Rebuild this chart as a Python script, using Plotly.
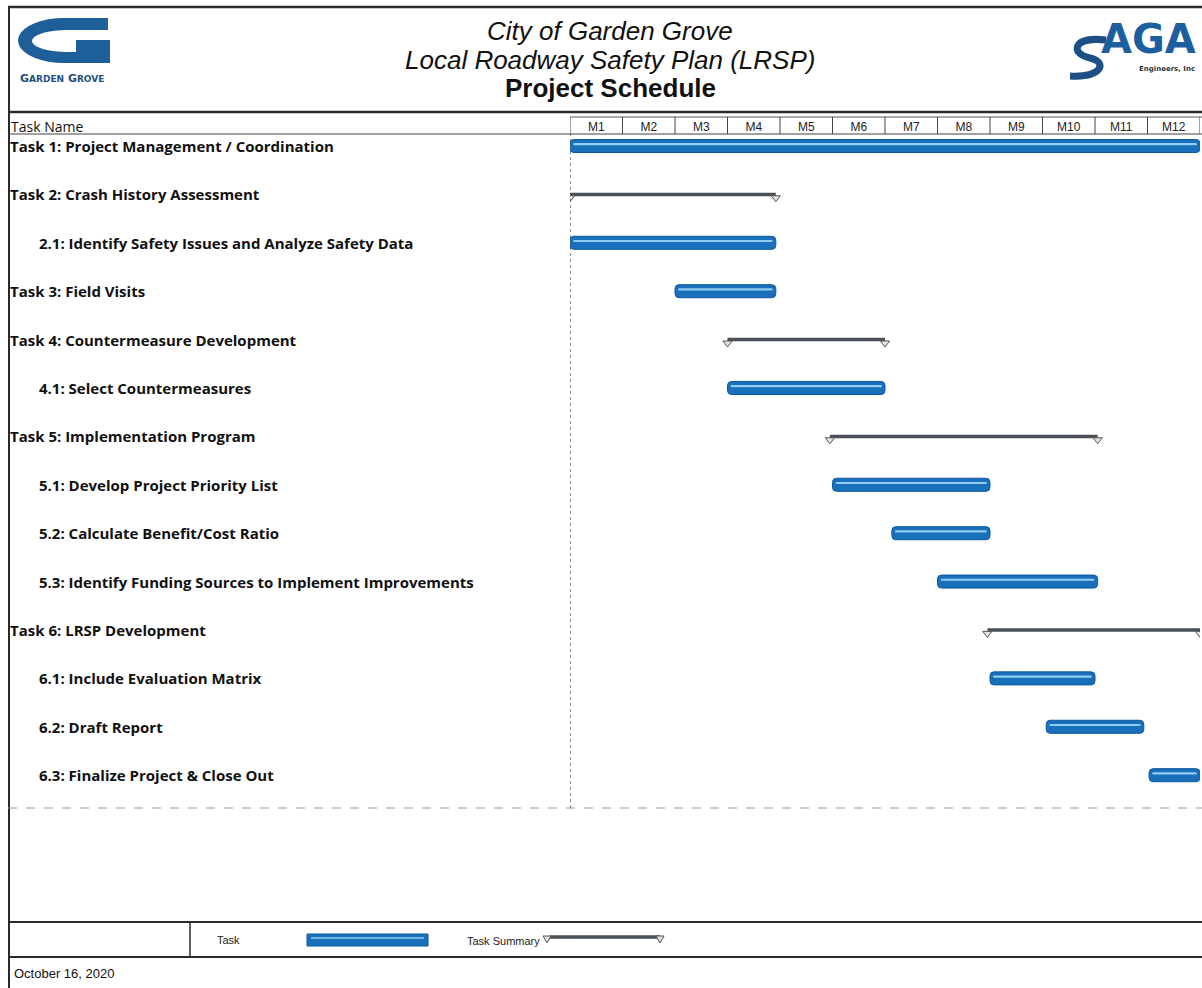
import math
import plotly.graph_objects as go

W, H = 1202, 988

# ---------------- data ----------------
task_names = [
    "Task 1: Project Management / Coordination",
    "Task 2: Crash History Assessment",
    "2.1: Identify Safety Issues and Analyze Safety Data",
    "Task 3: Field Visits",
    "Task 4: Countermeasure Development",
    "4.1: Select Countermeasures",
    "Task 5: Implementation Program",
    "5.1: Develop Project Priority List",
    "5.2: Calculate Benefit/Cost Ratio",
    "5.3: Identify Funding Sources to Implement Improvements",
    "Task 6: LRSP Development",
    "6.1: Include Evaluation Matrix",
    "6.2: Draft Report",
    "6.3: Finalize Project & Close Out",
]
indent = [0, 0, 1, 0, 0, 1, 0, 1, 1, 1, 0, 1, 1, 1]
kind = ["task", "summary", "task", "task", "summary", "task", "summary",
        "task", "task", "task", "summary", "task", "task", "task"]
start_month = [0, 0, 0, 2.0, 3.0, 3.0, 4.95, 5.0, 6.13, 7.0, 7.95, 8.0, 9.07, 11.03]
end_month = [12, 3.92, 3.92, 3.92, 6.0, 6.0, 10.05, 8.0, 8.0, 10.05, 12, 10.0, 10.93, 12]
months = ["M1", "M2", "M3", "M4", "M5", "M6", "M7", "M8", "M9", "M10", "M11", "M12"]

BLUE = "#1a6fba"
BLUE_EDGE = "#0c5a9e"
HILITE = "#8fcdf2"
SUMMARY = "#4a5057"
LOGO_BLUE = "#1f5f99"


def px(x):
    return x / W


def py(y):
    return 1 - y / H


rows = list(range(len(task_names)))
t_rows = [r for r in rows if kind[r] == "task"]
s_rows = [r for r in rows if kind[r] == "summary"]

fig = go.Figure()

# task bars
fig.add_trace(go.Bar(
    orientation="h",
    y=t_rows,
    base=[start_month[r] for r in t_rows],
    x=[end_month[r] - start_month[r] for r in t_rows],
    width=0.27,
    marker=dict(color=BLUE, line=dict(color=BLUE_EDGE, width=1)),
    showlegend=False, hoverinfo="skip",
))
# highlight stripe inside the bars
fig.add_trace(go.Bar(
    orientation="h",
    y=t_rows,
    base=[start_month[r] + 0.06 for r in t_rows],
    x=[end_month[r] - start_month[r] - 0.12 for r in t_rows],
    width=0.045,
    offset=-0.06,
    marker=dict(color=HILITE, line=dict(width=0)),
    showlegend=False, hoverinfo="skip",
))

# summary bars
for r in s_rows:
    fig.add_trace(go.Scatter(
        x=[start_month[r], end_month[r]], y=[r, r], mode="lines",
        line=dict(color=SUMMARY, width=3.5),
        showlegend=False, hoverinfo="skip",
    ))
    fig.add_trace(go.Scatter(
        x=[start_month[r], end_month[r]], y=[r + 0.07, r + 0.07], mode="markers",
        marker=dict(symbol="triangle-down", size=8, color="#e4e4e4",
                    line=dict(color="#555", width=1)),
        showlegend=False, hoverinfo="skip",
    ))

# task labels
annotations = []
for r in rows:
    annotations.append(dict(
        x=px(8 if indent[r] == 0 else 37), xref="paper", xanchor="left",
        y=r, yref="y", yanchor="middle",
        text=task_names[r], showarrow=False,
        font=dict(family="Open Sans", size=15, color="#111", weight=700),
    ))


def note(x, y, text, font, xanchor="center"):
    annotations.append(dict(x=px(x), y=py(y), xref="paper", yref="paper",
                            xanchor=xanchor, yanchor="middle", text=text,
                            showarrow=False, font=font))


TITLE = dict(family="Liberation Sans", size=26, color="#111")
note(610, 31, "City of Garden Grove", dict(TITLE, style="italic"))
note(610, 60, "Local Roadway Safety Plan (LRSP)", dict(TITLE, style="italic"))
note(610, 88, "<b>Project Schedule</b>", TITLE)
# logos (as text + simple shapes)
note(18, 78, "<b>G<span style='font-size:9px'>ARDEN</span> G<span style='font-size:9px'>ROVE</span></b>",
     dict(family="DejaVu Sans", size=11, color="#1f4f7f"), "left")
note(1198, 39, "<b>AGA</b>", dict(family="DejaVu Sans", size=40, color="#1c5f9f"), "right")
note(1197, 69, "<b>Engineers, Inc</b>", dict(family="DejaVu Sans", size=7, color="#333"), "right")
note(9, 126, "Task Name", dict(family="Open Sans", size=14, color="#111"), "left")
# legend / footer
note(215, 940, "Task", dict(family="Liberation Sans", size=11, color="#222"), "left")
note(465, 941, "Task Summary", dict(family="Liberation Sans", size=11, color="#222"), "left")
note(12, 973, "October 16, 2020", dict(family="Liberation Sans", size=13, color="#111"), "left")

shapes = []


def hline(y, x0, x1, w=2, color="#2a2a2a", dash="solid"):
    shapes.append(dict(type="line", xref="paper", yref="paper",
                       x0=px(x0), x1=px(x1), y0=py(y), y1=py(y),
                       line=dict(color=color, width=w, dash=dash)))


def vline(x, y0, y1, w=2, color="#2a2a2a", dash="solid"):
    shapes.append(dict(type="line", xref="paper", yref="paper",
                       x0=px(x), x1=px(x), y0=py(y0), y1=py(y1),
                       line=dict(color=color, width=w, dash=dash)))


def to_path(cmds):
    out = []
    for c, pts in cmds:
        out.append(c + " " + " ".join(f"{px(x):.5f},{py(y):.5f}" for x, y in pts))
    return " ".join(out)


# Garden Grove "G" logo mark
def ell(cx, cy, rx, ry, a):
    t = math.radians(a)
    return (cx + rx * math.cos(t), cy - ry * math.sin(t))


g_pts = [(108, 18)]
g_pts += [ell(64, 40.5, 46, 22.5, a) for a in range(90, 271, 10)]
g_pts += [(110, 63), (110, 40), (76, 40), (76, 52)]
g_pts += [ell(67, 41, 35, 11, a) for a in range(270, 89, -10)]
g_pts += [(108, 30)]
gpath = "M " + " L ".join(f"{px(x):.5f} {py(y):.5f}" for x, y in g_pts) + " Z"
shapes.append(dict(type="path", xref="paper", yref="paper", path=gpath,
                   fillcolor=LOGO_BLUE, line=dict(width=0)))

# SAGA "S" swoosh
spath = to_path([("M", [(1106, 40)]),
                 ("C", [(1072, 36), (1070, 54), (1090, 58)]),
                 ("C", [(1108, 62), (1102, 78), (1070, 76)])])
shapes.append(dict(type="path", xref="paper", yref="paper", path=spath,
                   line=dict(color="#1b4f86", width=7)))

hline(7, 8, 1202, 2.5)
vline(9, 7, 988, 2)
hline(112, 8, 1202, 2.5)
hline(117, 570, 1202, 1, "#555")
hline(134, 8, 1202, 1.2, "#444")
hline(808, 8, 1202, 1, "#9a9a9a", "dash")
hline(922, 8, 1202, 2)
hline(957, 8, 1202, 2)
vline(190, 922, 957, 1.5)

# month separators and chart start line (via x axis)
for k in range(len(months) + 1):
    shapes.append(dict(type="line", xref="x", yref="paper", x0=k, x1=k,
                       y0=py(134), y1=py(117), line=dict(color="#444", width=1)))
shapes.append(dict(type="line", xref="x", yref="paper", x0=0, x1=0,
                   y0=py(808), y1=py(134), line=dict(color="#555", width=1.3, dash="dot")))

# legend samples
shapes.append(dict(type="rect", xref="paper", yref="paper",
                   x0=px(307), x1=px(428), y0=py(946), y1=py(934),
                   fillcolor=BLUE, line=dict(color=BLUE_EDGE, width=1)))
hline(938, 311, 424, 1.5, HILITE)
hline(937, 550, 660, 3.5, SUMMARY)
for cx in (547, 660):
    shapes.append(dict(type="path", xref="paper", yref="paper",
                       path=f"M {px(cx-4)} {py(936)} L {px(cx+4)} {py(936)} L {px(cx)} {py(943)} Z",
                       fillcolor="#e4e4e4", line=dict(color="#555", width=1)))

fig.update_layout(
    width=W, height=H,
    margin=dict(l=0, r=0, t=0, b=0),
    paper_bgcolor="white", plot_bgcolor="white",
    barmode="overlay",
    barcornerradius=4,
    xaxis=dict(domain=[px(570), px(1200)], range=[0, 12], side="top",
               tickvals=[i + 0.5 for i in range(len(months))], ticktext=months,
               showgrid=False, zeroline=False, showline=False, ticks="",
               tickfont=dict(family="Liberation Sans", size=12, color="#222"),
               fixedrange=True),
    yaxis=dict(domain=[py(808), py(134)], range=[13.678, -0.248],
               showgrid=False, zeroline=False, showticklabels=False, showline=False,
               fixedrange=True),
    annotations=annotations,
    shapes=shapes,
)

fig.write_html(
    "out.html",
    config={"displayModeBar": False},
    post_script="document.body.style.margin='0';document.body.style.overflow='hidden';",
)
